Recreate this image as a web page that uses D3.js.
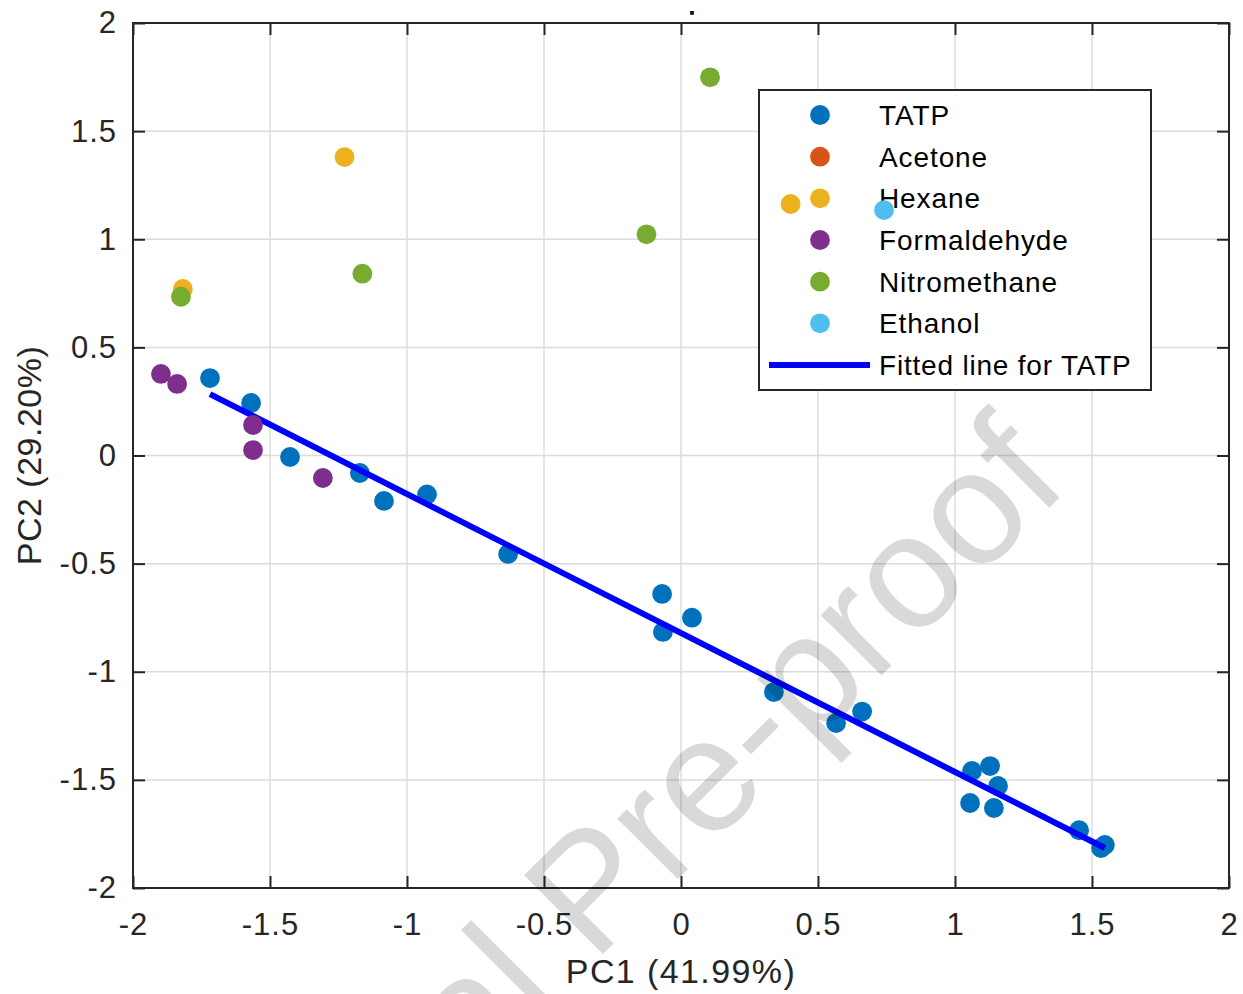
<!DOCTYPE html>
<html>
<head>
<meta charset="utf-8">
<script src="https://cdn.jsdelivr.net/npm/d3@7"></script>
<style>
  html, body { margin: 0; padding: 0; background: #fff; }
  svg { display: block; font-family: "Liberation Sans", Arial, Helvetica, sans-serif; }
</style>
</head>
<body>
<svg id="chart" width="1243" height="994"></svg>
<script>
// ---------------- data ----------------
const seriesNames = ["TATP", "Acetone", "Hexane", "Formaldehyde", "Nitromethane", "Ethanol"];
const seriesColors = ["#0072BD", "#D95319", "#EDB120", "#7E2F8E", "#77AC30", "#4DBEEE"];

const tatpX = [-1.719, -1.569, -1.427, -1.172, -1.084, -0.927, -0.631, -0.069, -0.066, 0.040, 0.339, 0.566, 0.661, 1.062, 1.128, 1.157, 1.055, 1.142, 1.453, 1.533, 1.547];
const tatpY = [0.358, 0.243, -0.007, -0.081, -0.210, -0.180, -0.455, -0.640, -0.816, -0.750, -1.094, -1.237, -1.184, -1.459, -1.436, -1.528, -1.607, -1.630, -1.733, -1.815, -1.801];

const acetoneX = [];
const acetoneY = [];

const hexaneX = [-1.818, -1.228, 0.400];
const hexaneY = [0.770, 1.380, 1.163];

const formaldehydeX = [-1.898, -1.839, -1.562, -1.562, -1.307];
const formaldehydeY = [0.377, 0.331, 0.141, 0.025, -0.104];

const nitromethaneX = [-1.825, -1.163, -0.126, 0.106];
const nitromethaneY = [0.734, 0.841, 1.023, 1.749];

const ethanolX = [0.741];
const ethanolY = [1.135];

const fitX = [-1.719, 1.547];
const fitY = [0.284, -1.815];
const fitName = "Fitted line for TATP";

const xTicks = [-2, -1.5, -1, -0.5, 0, 0.5, 1, 1.5, 2];
const yTicks = [-2, -1.5, -1, -0.5, 0, 0.5, 1, 1.5, 2];
const xLabel = "PC1 (41.99%)";
const yLabel = "PC2 (29.20%)";
const titleText = ".";
const watermarkText = "Journal Pre-proof";

// ---------------- layout ----------------
const svg = d3.select("#chart");
const L = 133, R = 1229, T = 23, B = 888;
const x = d3.scaleLinear().domain([-2, 2]).range([L, R]);
const y = d3.scaleLinear().domain([-2, 2]).range([B, T]);
const axisColor = "#262626";
const fmt = d => String(d);

// grid
const grid = svg.append("g");
grid.selectAll("line.gx").data(xTicks).join("line")
  .attr("x1", d => x(d)).attr("x2", d => x(d)).attr("y1", T).attr("y2", B)
  .attr("stroke", "#dcdcdc").attr("stroke-width", 1.5);
grid.selectAll("line.gy").data(yTicks).join("line")
  .attr("y1", d => y(d)).attr("y2", d => y(d)).attr("x1", L).attr("x2", R)
  .attr("stroke", "#dcdcdc").attr("stroke-width", 1.5);

// points
const groups = [
  [tatpX, tatpY], [acetoneX, acetoneY], [hexaneX, hexaneY],
  [formaldehydeX, formaldehydeY], [nitromethaneX, nitromethaneY], [ethanolX, ethanolY]
];
const r = 9.9;
function drawGroup(i) {
  const [gx, gy] = groups[i];
  svg.append("g").selectAll("circle").data(gx.map((v, k) => [v, gy[k]])).join("circle")
    .attr("cx", d => x(d[0])).attr("cy", d => y(d[1])).attr("r", r)
    .attr("fill", seriesColors[i]);
}
drawGroup(0);
// fitted line
svg.append("path")
  .datum(fitX.map((v, k) => [v, fitY[k]]))
  .attr("d", d3.line().x(d => x(d[0])).y(d => y(d[1])))
  .attr("stroke", "#0000FF").attr("stroke-width", 6).attr("fill", "none");
for (let i = 1; i < groups.length; i++) drawGroup(i);

// axes
const fs = 31;
function styleAxis(g) {
  g.select(".domain").remove();
  g.selectAll(".tick line").attr("stroke", axisColor).attr("stroke-width", 2);
  g.selectAll(".tick text").attr("fill", axisColor).attr("font-size", fs)
    .attr("font-family", "'Liberation Sans', Arial, sans-serif").attr("letter-spacing", 1);
}
svg.append("g").attr("transform", `translate(0,${B})`)
  .call(d3.axisBottom(x).tickValues(xTicks).tickFormat(fmt).tickSize(-12).tickPadding(25))
  .call(styleAxis);
svg.append("g").attr("transform", `translate(0,${T})`)
  .call(d3.axisTop(x).tickValues(xTicks).tickFormat("").tickSize(-12))
  .call(styleAxis);
svg.append("g").attr("transform", `translate(${L},0)`)
  .call(d3.axisLeft(y).tickValues(yTicks).tickFormat(fmt).tickSize(-12).tickPadding(16))
  .call(styleAxis);
svg.append("g").attr("transform", `translate(${R},0)`)
  .call(d3.axisRight(y).tickValues(yTicks).tickFormat("").tickSize(-12))
  .call(styleAxis);
svg.append("rect").attr("x", L).attr("y", T).attr("width", R - L).attr("height", B - T)
  .attr("fill", "none").attr("stroke", axisColor).attr("stroke-width", 2);

// labels
svg.append("text").attr("x", (L + R) / 2).attr("y", 983).attr("text-anchor", "middle")
  .attr("font-size", 34).attr("letter-spacing", 1.4).attr("fill", axisColor).text(xLabel);
svg.append("text").attr("transform", `translate(41,${(T + B) / 2}) rotate(-90)`)
  .attr("text-anchor", "middle").attr("font-size", 34).attr("letter-spacing", 0.5)
  .attr("fill", axisColor).text(yLabel);
svg.append("text").attr("x", 692).attr("y", 14).attr("text-anchor", "middle")
  .attr("font-size", 14).attr("font-weight", "bold").attr("fill", "#000")
  .attr("stroke", "#000").attr("stroke-width", 1.6).text(titleText);

// legend
const lg = svg.append("g");
lg.append("rect").attr("x", 759).attr("y", 90).attr("width", 392).attr("height", 300)
  .attr("fill", "#fff").attr("stroke", axisColor).attr("stroke-width", 2);
const rowY = d3.scaleLinear().domain([0, 6]).range([115, 365]);
seriesNames.forEach((n, i) => {
  lg.append("circle").attr("cx", 820).attr("cy", rowY(i)).attr("r", r).attr("fill", seriesColors[i]);
  lg.append("text").attr("x", 879).attr("y", rowY(i) + 10).attr("font-size", 28)
    .attr("letter-spacing", 0.9).attr("fill", "#000").text(n);
});
lg.append("line").attr("x1", 769).attr("x2", 870).attr("y1", rowY(6)).attr("y2", rowY(6))
  .attr("stroke", "#0000FF").attr("stroke-width", 6);
lg.append("text").attr("x", 879).attr("y", rowY(6) + 10).attr("font-size", 28)
  .attr("letter-spacing", 0.8).attr("fill", "#000").text(fitName);

// markers drawn over the legend box (they lie inside it in the reference)
svg.append("g").selectAll("circle")
  .data(hexaneX.map((v, k) => [v, hexaneY[k]]).filter(d => x(d[0]) > 759 && y(d[1]) > 90 && y(d[1]) < 390))
  .join("circle").attr("cx", d => x(d[0])).attr("cy", d => y(d[1])).attr("r", r).attr("fill", seriesColors[2]);
svg.append("g").selectAll("circle")
  .data(ethanolX.map((v, k) => [v, ethanolY[k]]).filter(d => x(d[0]) > 759 && y(d[1]) > 90 && y(d[1]) < 390))
  .join("circle").attr("cx", d => x(d[0])).attr("cy", d => y(d[1])).attr("r", r).attr("fill", seriesColors[5]);

// watermark
svg.append("text").attr("transform", "translate(1071,486) rotate(-45)")
  .attr("text-anchor", "end").attr("font-size", 162).attr("fill", "#000").attr("fill-opacity", 0.15)
  .text(watermarkText);
</script>
</body>
</html>
